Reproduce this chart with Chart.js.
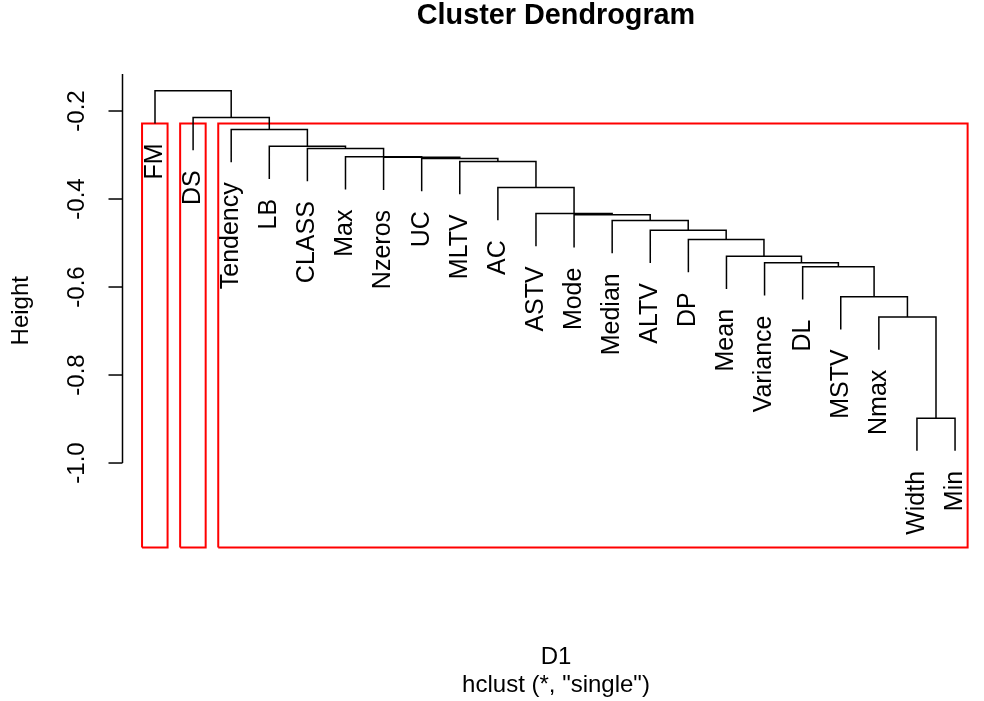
<!DOCTYPE html>
<html>
<head>
<meta charset="utf-8">
<script src="https://cdn.jsdelivr.net/npm/chart.js@4.4.0/dist/chart.umd.min.js"></script>
<style>
  html, body { margin: 0; padding: 0; background: #fff; }
  #wrap { width: 984px; height: 701px; position: relative; }
</style>
</head>
<body>
<div id="wrap"><canvas id="dendro"></canvas></div>
<script>
// Leaf order as plotted
const leaves = ['FM', 'DS', 'Tendency', 'LB', 'CLASS', 'Max', 'Nzeros', 'UC', 'MLTV', 'AC',
    'ASTV', 'Mode', 'Median', 'ALTV', 'DP', 'Mean', 'Variance', 'DL', 'MSTV', 'Nmax', 'Width', 'Min'];

// hclust style merges: negative = leaf (1-based position), positive = earlier merge
const mergeLeft  = [-21, -20, -19, -18, -17, -16, -15, -14, -13, -12, -11, -10, -9, -8, -7, -6, -5, -4, -3, -2, -1];
const mergeRight = [-22, 1, 2, 3, 4, 5, 6, 7, 8, 9, 10, 11, 12, 13, 14, 15, 16, 17, 18, 19, 20];
const mergeHeight = [-0.898, -0.668, -0.622, -0.554, -0.545, -0.530, -0.492, -0.471, -0.449, -0.436,
    -0.433, -0.374, -0.315, -0.308, -0.305, -0.304, -0.285, -0.280, -0.242, -0.215, -0.154];

// y axis ticks
const yTicks = [-0.2, -0.4, -0.6, -0.8, -1.0];

// rect.hclust(k = 3) groups, as leaf positions
const groupStart = [1, 2, 3];
const groupEnd = [1, 2, 22];

// Layout: node x is midpoint of its children, leaves hang below parent
const hang = 0.1 * (Math.max(...mergeHeight) - Math.min(...mergeHeight));
const nodeX = [];
const leafBottom = [];
const segments = [];
mergeHeight.forEach((h, i) => {
    const kids = [mergeLeft[i], mergeRight[i]].map(c => {
        if (c < 0) {
            leafBottom[-c - 1] = h - hang;
            return { x: -c, y: h - hang };
        }
        return { x: nodeX[c - 1], y: mergeHeight[c - 1] };
    });
    nodeX[i] = (kids[0].x + kids[1].x) / 2;
    segments.push({ x: kids[0].x, y: kids[0].y }, { x: kids[0].x, y: h },
                  { x: kids[1].x, y: h }, { x: kids[1].x, y: kids[1].y }, { x: kids[1].x, y: null });
});

// Cluster boxes
const yMin = -1.192;
const yMax = -0.1159;
const sorted = [...mergeHeight].sort((a, b) => b - a);
const boxTop = (sorted[1] + sorted[2]) / 2;
const boxes = [];
groupStart.forEach((s, i) => {
    const x0 = s - 0.34, x1 = groupEnd[i] + 0.33;
    boxes.push({ x: x0, y: yMin }, { x: x0, y: boxTop }, { x: x1, y: boxTop },
               { x: x1, y: yMin }, { x: x0, y: yMin }, { x: x0, y: null });
});

const FONT = '"Liberation Sans", Arial, sans-serif';

// Draw axis, labels and titles the way R does
const annotate = {
    id: 'annotate',
    afterDraw(chart) {
        const { ctx, chartArea, scales: { x, y } } = chart;
        ctx.save();
        ctx.fillStyle = '#000';
        ctx.strokeStyle = '#000';
        ctx.lineWidth = 1.5;

        // y axis line + ticks
        const ax = chartArea.left - 0.5;
        ctx.beginPath();
        ctx.moveTo(ax, chartArea.top);
        ctx.lineTo(ax, y.getPixelForValue(Math.min(...yTicks)));
        ctx.stroke();
        ctx.font = '24px ' + FONT;
        ctx.textAlign = 'center';
        ctx.textBaseline = 'middle';
        yTicks.forEach(v => {
            const py = y.getPixelForValue(v);
            ctx.beginPath();
            ctx.moveTo(ax - 14, py);
            ctx.lineTo(ax, py);
            ctx.stroke();
            ctx.save();
            ctx.translate(77, py);
            ctx.rotate(-Math.PI / 2);
            ctx.fillText(v.toFixed(1), 0, 0);
            ctx.restore();
        });

        // y title
        ctx.save();
        ctx.translate(21, (chartArea.top + chartArea.bottom) / 2);
        ctx.rotate(-Math.PI / 2);
        ctx.fillText('Height', 0, 0);
        ctx.restore();

        // leaf labels
        ctx.font = '25px ' + FONT;
        ctx.textAlign = 'right';
        leaves.forEach((name, i) => {
            ctx.save();
            ctx.translate(x.getPixelForValue(i + 1), y.getPixelForValue(leafBottom[i]) + 20);
            ctx.rotate(-Math.PI / 2);
            ctx.fillText(name, 0, 0);
            ctx.restore();
        });

        // titles
        const cx = 556;
        ctx.textAlign = 'center';
        ctx.textBaseline = 'alphabetic';
        ctx.font = 'bold 28.8px ' + FONT;
        ctx.fillText('Cluster Dendrogram', cx, 23.5);
        ctx.font = '24px ' + FONT;
        ctx.fillText('D1', cx, 664);
        ctx.fillText('hclust (*, "single")', cx, 692);
        ctx.restore();
    }
};

new Chart(document.getElementById('dendro'), {
    type: 'line',
    data: {
        datasets: [
            {
                data: segments,
                borderColor: '#000000',
                borderWidth: 1.5,
                pointRadius: 0,
                tension: 0,
                fill: false,
                spanGaps: false,
                clip: false
            },
            {
                data: boxes,
                borderColor: '#ff0000',
                borderWidth: 2,
                pointRadius: 0,
                tension: 0,
                fill: false,
                spanGaps: false,
                clip: false
            }
        ]
    },
    options: {
        responsive: true,
        maintainAspectRatio: false,
        animation: false,
        devicePixelRatio: 1,
        layout: {
            padding: { left: 123, top: 74, right: 0, bottom: 153.5 }
        },
        plugins: {
            legend: { display: false },
            tooltip: { enabled: false }
        },
        scales: {
            x: { type: 'linear', min: 0.16, max: 22.76, display: false },
            y: { type: 'linear', min: yMin, max: yMax, display: false }
        }
    },
    plugins: [annotate]
});
</script>
</body>
</html>
